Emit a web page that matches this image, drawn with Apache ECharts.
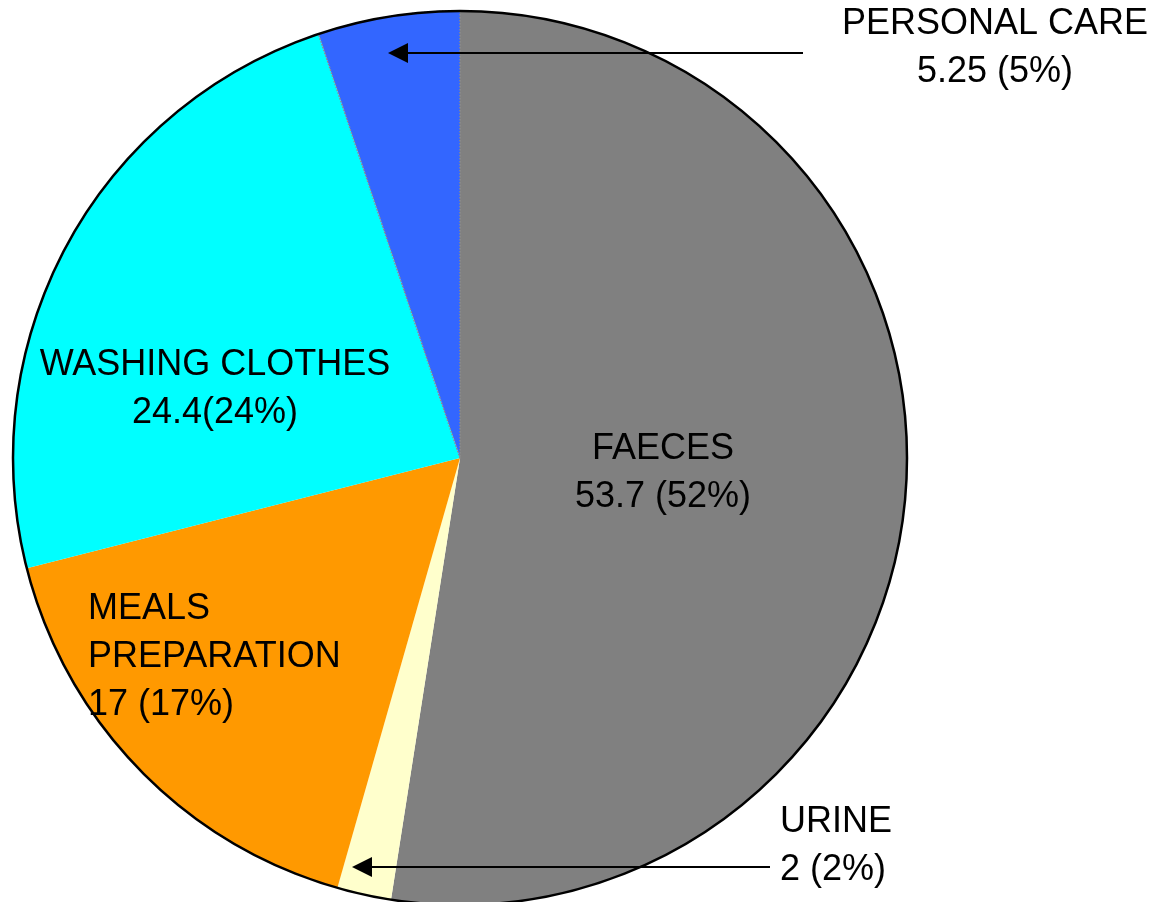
<!DOCTYPE html>
<html>
<head>
<meta charset="utf-8">
<style>
  html, body { margin: 0; padding: 0; background: #ffffff; }
  #main { width: 1164px; height: 902px; }
</style>
<script src="https://cdn.jsdelivr.net/npm/echarts@6/dist/echarts.min.js"></script>
</head>
<body>
<div id="main"></div>
<script>
// slices, clockwise from 12 o'clock
var sliceNames = ['FAECES', 'URINE', 'MEALS\nPREPARATION', 'WASHING CLOTHES', 'PERSONAL CARE'];
var sliceValues = [53.7, 2, 17, 24.4, 5.25];
var sliceGaps = [' ', ' ', ' ', '', ' '];   // space between value and (%) as printed
var sliceColors = ['#808080', '#ffffcc', '#ff9900', '#00ffff', '#3366ff'];

// where each label block sits (center of block) and how it is aligned
var labelSpots = [
    { x: 663, y: 473, align: 'center' },
    { x: 780, y: 846, align: 'left' },
    { x: 88,  y: 657, align: 'left' },
    { x: 215, y: 389, align: 'center' },
    { x: 995, y: 48,  align: 'center' }
];

var fontFam = '"Liberation Sans", Arial, sans-serif';

var dom = document.getElementById('main');
var myChart = echarts.init(dom, null, { renderer: 'canvas' });

var pieData = sliceNames.map(function (n, i) {
    var item = { name: n, value: sliceValues[i], itemStyle: { color: sliceColors[i] } };
    if (i === 4) {
        item.itemStyle.borderColor = '#8c8c8c';
        item.itemStyle.borderWidth = 1.5;
        item.itemStyle.borderType = 'dotted';
    }
    return item;
});

function arrow(x1, x2, y) {
    // horizontal line from x1 (right) to arrow tip at x2 (left)
    return {
        type: 'group',
        silent: true,
        zlevel: 1,
        children: [
            { type: 'line', z: 100, zlevel: 1, shape: { x1: x1, y1: y, x2: x2 + 14, y2: y }, style: { stroke: '#000', lineWidth: 2 } },
            { type: 'polygon', z: 100, zlevel: 1, shape: { points: [[x2, y], [x2 + 20, y - 10], [x2 + 20, y + 10]] }, style: { fill: '#000' } }
        ]
    };
}

option = {
    backgroundColor: '#ffffff',
    animation: false,
    series: [
        {
            name: 'slices',
            type: 'pie',
            center: [460, 458],
            radius: [0, 447],
            startAngle: 90,
            clockwise: true,
            avoidLabelOverlap: false,
            emphasis: { disabled: true },
            data: pieData,
            label: {
                show: true,
                position: 'inside',
                color: '#000',
                fontFamily: fontFam,
                fontSize: 36,
                lineHeight: 48,
                formatter: function (p) {
                    return p.name + '\n' + p.value + sliceGaps[p.dataIndex] + '(' + p.percent.toFixed(0) + '%)';
                }
            },
            labelLine: { show: false },
            labelLayout: function (params) {
                var s = labelSpots[params.dataIndex];
                return { x: s.x, y: s.y, align: s.align, verticalAlign: 'middle' };
            },
            z: 2
        },
        {
            name: 'outline',
            type: 'pie',
            center: [460, 458],
            radius: [0, 447],
            silent: true,
            emphasis: { disabled: true },
            label: { show: false },
            labelLine: { show: false },
            itemStyle: { color: 'rgba(0,0,0,0)', borderColor: '#000', borderWidth: 2.5 },
            data: [{ value: 1 }],
            z: 3
        }
    ],
    graphic: [
        arrow(803, 388, 53),
        arrow(770, 352, 867)
    ]
};

if (option && typeof option === 'object') {
    myChart.setOption(option, true);
}

window.addEventListener('resize', function () {
    myChart.resize();
});
</script>
</body>
</html>
